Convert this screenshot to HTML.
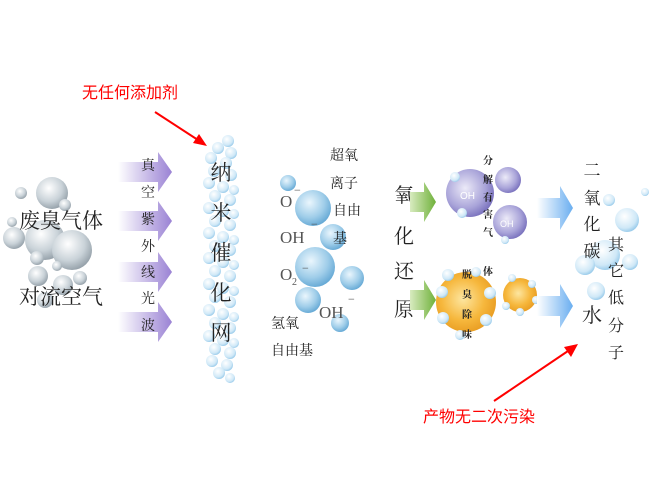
<!DOCTYPE html>
<html><head><meta charset="utf-8"><style>
html,body{margin:0;padding:0;background:#fff;}
svg{display:block;}
text{font-family:"Liberation Serif","Noto Serif CJK SC","Noto Sans CJK SC",serif;}
.s{font-family:"Liberation Sans","Noto Sans CJK SC",sans-serif;}
</style></head><body>
<svg width="651" height="491" viewBox="0 0 651 491" xmlns="http://www.w3.org/2000/svg">
<defs>
<radialGradient id="g" cx="0.4" cy="0.35" r="0.7"><stop offset="0" stop-color="#ffffff"/><stop offset="0.6" stop-color="#c9d2d8"/><stop offset="1" stop-color="#8f9ba4"/></radialGradient>
<radialGradient id="b" cx="0.4" cy="0.35" r="0.7"><stop offset="0" stop-color="#eaf6fd"/><stop offset="0.6" stop-color="#9fcde9"/><stop offset="1" stop-color="#5fa5d3"/></radialGradient>
<radialGradient id="lb" cx="0.4" cy="0.35" r="0.7"><stop offset="0" stop-color="#ffffff"/><stop offset="0.7" stop-color="#cfe8f7"/><stop offset="1" stop-color="#8ec5e8"/></radialGradient>
<radialGradient id="p" cx="0.4" cy="0.4" r="0.7"><stop offset="0" stop-color="#eceaf8"/><stop offset="0.6" stop-color="#a9a4d9"/><stop offset="1" stop-color="#6b62b5"/></radialGradient>
<radialGradient id="o" cx="0.45" cy="0.45" r="0.6"><stop offset="0" stop-color="#fde6a0"/><stop offset="0.6" stop-color="#f6b73c"/><stop offset="1" stop-color="#e79a20"/></radialGradient>
<linearGradient id="pa" x1="0" x2="1"><stop offset="0" stop-color="#ffffff"/><stop offset="1" stop-color="#9a82d4"/></linearGradient>
<linearGradient id="ga" x1="0" x2="1"><stop offset="0" stop-color="#d8ebc0"/><stop offset="1" stop-color="#6fb13a"/></linearGradient>
<linearGradient id="ba" x1="0" x2="1"><stop offset="0" stop-color="#ffffff"/><stop offset="1" stop-color="#6aaef0"/></linearGradient>
</defs>

<!-- left grey bubbles -->
<g fill="url(#g)">
<circle cx="21" cy="193" r="6"/><circle cx="52" cy="193" r="16"/><circle cx="65" cy="205" r="6"/>
<circle cx="12" cy="222" r="5"/><circle cx="14" cy="238" r="11"/><circle cx="45" cy="240" r="20"/>
<circle cx="72" cy="250" r="20"/><circle cx="37" cy="258" r="7"/><circle cx="38" cy="276" r="10"/>
<circle cx="57" cy="266" r="5"/><circle cx="63" cy="285" r="10"/><circle cx="80" cy="278" r="7"/><circle cx="45" cy="300" r="8"/>
</g>
<text x="19" y="228" font-size="21" fill="#222">废臭气体</text>
<text x="19" y="304" font-size="21" fill="#222">对流空气</text>

<!-- purple arrows -->
<g fill="url(#pa)">
<polygon points="118,162 158,162 158,152 172,172 158,192 158,182 118,182"/>
<polygon points="118,211 158,211 158,201 172,221 158,241 158,231 118,231"/>
<polygon points="118,262 158,262 158,252 172,272 158,292 158,282 118,282"/>
<polygon points="118,312 158,312 158,302 172,322 158,342 158,332 118,332"/>
</g>
<g font-size="14" fill="#222" text-anchor="middle">
<text x="148" y="170">真</text><text x="148" y="197">空</text><text x="148" y="224">紫</text>
<text x="148" y="251">外</text><text x="148" y="277">线</text><text x="148" y="303">光</text><text x="148" y="330">波</text>
</g>

<!-- bubble column -->
<g fill="url(#lb)">
<circle cx="228" cy="141" r="6"/><circle cx="218" cy="148" r="6"/><circle cx="231" cy="153" r="6"/>
<circle cx="211" cy="158" r="6"/><circle cx="226" cy="163" r="6"/><circle cx="214" cy="171" r="6"/><circle cx="231" cy="175" r="6"/>
<circle cx="209" cy="183" r="6"/><circle cx="223" cy="187" r="6"/><circle cx="234" cy="190" r="5"/><circle cx="215" cy="196" r="6"/><circle cx="230" cy="200" r="6"/>
<circle cx="209" cy="208" r="6"/><circle cx="223" cy="211" r="6"/><circle cx="234" cy="214" r="5"/><circle cx="215" cy="221" r="6"/><circle cx="230" cy="225" r="6"/>
<circle cx="209" cy="233" r="6"/><circle cx="223" cy="237" r="6"/><circle cx="234" cy="240" r="5"/><circle cx="215" cy="246" r="6"/><circle cx="230" cy="250" r="6"/>
<circle cx="209" cy="258" r="6"/><circle cx="223" cy="262" r="6"/><circle cx="234" cy="265" r="5"/><circle cx="215" cy="271" r="6"/><circle cx="230" cy="276" r="6"/>
<circle cx="209" cy="284" r="6"/><circle cx="223" cy="288" r="6"/><circle cx="234" cy="291" r="5"/><circle cx="215" cy="297" r="6"/><circle cx="230" cy="302" r="6"/>
<circle cx="209" cy="310" r="6"/><circle cx="223" cy="314" r="6"/><circle cx="234" cy="317" r="5"/><circle cx="215" cy="323" r="6"/><circle cx="230" cy="328" r="6"/>
<circle cx="209" cy="336" r="6"/><circle cx="223" cy="340" r="6"/><circle cx="234" cy="343" r="5"/><circle cx="215" cy="349" r="6"/><circle cx="230" cy="353" r="6"/>
<circle cx="212" cy="361" r="6"/><circle cx="227" cy="365" r="6"/><circle cx="219" cy="373" r="6"/><circle cx="230" cy="378" r="5"/>
</g>
<g font-size="21" fill="#222" text-anchor="middle">
<text x="221" y="180">纳</text><text x="221" y="220">米</text><text x="221" y="260">催</text>
<text x="221" y="300">化</text><text x="221" y="340">网</text>
</g>

<!-- middle radicals -->
<g fill="url(#b)">
<circle cx="288" cy="183" r="8"/><circle cx="313" cy="208" r="18"/><circle cx="333" cy="237" r="13"/>
<circle cx="315" cy="267" r="20"/><circle cx="352" cy="278" r="12"/><circle cx="308" cy="300" r="13"/><circle cx="340" cy="323" r="9"/>
</g>
<g font-size="17" fill="#555">
<text x="280" y="207">O</text><text x="294" y="194" font-size="12">−</text>
<text x="280" y="243">OH</text><text x="311" y="228" font-size="12">−</text>
<text x="280" y="280">O</text><text x="292" y="285" font-size="10">2</text><text x="302" y="272" font-size="12">−</text>
<text x="319" y="318">OH</text><text x="348" y="303" font-size="12">−</text>
</g>
<g font-size="14" fill="#222">
<text x="271" y="328">氢氧</text><text x="271" y="355">自由基</text>
<text x="330" y="160">超氧</text><text x="330" y="188">离子</text><text x="333" y="215">自由</text><text x="333" y="243">基</text>
</g>

<!-- 氧化还原 -->
<g font-size="20" fill="#222" text-anchor="middle">
<text x="404" y="202">氧</text><text x="404" y="243">化</text><text x="404" y="278">还</text><text x="404" y="316">原</text>
</g>
<g fill="url(#ga)">
<polygon points="410,192 424,192 424,182 436,202 424,222 424,212 410,212"/>
<polygon points="410,290 424,290 424,280 436,300 424,320 424,310 410,310"/>
</g>

<!-- purple blobs -->
<g fill="url(#p)">
<circle cx="470" cy="193" r="24"/><circle cx="508" cy="180" r="13"/><circle cx="510" cy="222" r="17"/>
</g>
<g fill="url(#lb)"><circle cx="455" cy="177" r="5"/><circle cx="462" cy="213" r="5"/><circle cx="505" cy="240" r="4"/></g>
<text class="s" x="460" y="199" font-size="10" fill="#fff">OH</text>
<text class="s" x="500" y="227" font-size="9" fill="#fff">OH</text>

<!-- orange blobs -->
<g fill="url(#o)"><circle cx="466" cy="302" r="30"/><circle cx="520" cy="295" r="17"/></g>
<g fill="url(#lb)">
<circle cx="448" cy="275" r="6"/><circle cx="476" cy="272" r="5"/><circle cx="442" cy="292" r="6"/><circle cx="490" cy="293" r="6"/>
<circle cx="443" cy="318" r="6"/><circle cx="486" cy="320" r="6"/><circle cx="460" cy="335" r="5"/>
<circle cx="512" cy="278" r="4"/><circle cx="532" cy="284" r="4"/><circle cx="536" cy="300" r="4"/><circle cx="520" cy="312" r="4"/><circle cx="506" cy="306" r="4"/>
</g>
<g class="s" font-size="10" font-weight="bold" fill="#222" text-anchor="middle">
<text x="488" y="164">分</text><text x="488" y="183">解</text><text x="488" y="201">有</text>
<text x="488" y="218">害</text><text x="488" y="236">气</text><text x="488" y="275">体</text>
<text x="467" y="278">脱</text><text x="467" y="298">臭</text><text x="467" y="318">除</text><text x="467" y="338">味</text>
</g>

<!-- blue arrows -->
<g fill="url(#ba)">
<polygon points="537,198 560,198 560,186 573,208 560,230 560,218 537,218"/>
<polygon points="537,296 560,296 560,284 573,306 560,328 560,316 537,316"/>
</g>

<!-- right bubbles -->
<g fill="url(#lb)">
<circle cx="609" cy="200" r="6"/><circle cx="627" cy="220" r="12"/><circle cx="605" cy="255" r="15"/>
<circle cx="585" cy="265" r="10"/><circle cx="630" cy="262" r="8"/><circle cx="596" cy="291" r="9"/><circle cx="645" cy="192" r="4"/>
</g>
<g font-size="17" fill="#222" text-anchor="middle">
<text x="592" y="176">二</text><text x="592" y="204">氧</text><text x="592" y="230">化</text><text x="592" y="257">碳</text>
<text x="592" y="322" font-size="20">水</text>
<text x="616" y="250" font-size="16">其</text><text x="616" y="276" font-size="16">它</text><text x="616" y="303" font-size="16">低</text>
<text x="616" y="331" font-size="16">分</text><text x="616" y="358" font-size="16">子</text>
</g>

<!-- red annotations -->
<text class="s" x="82" y="98" font-size="16" fill="#f00">无任何添加剂</text>
<line x1="155" y1="112" x2="198" y2="140" stroke="#f00" stroke-width="2"/>
<polygon points="207,146 193,143 199,134" fill="#f00"/>
<text class="s" x="423" y="422" font-size="16" fill="#f00">产物无二次污染</text>
<line x1="494" y1="401" x2="568" y2="351" stroke="#f00" stroke-width="2"/>
<polygon points="578,344 571,357 564,347" fill="#f00"/>
</svg>
</body></html>
